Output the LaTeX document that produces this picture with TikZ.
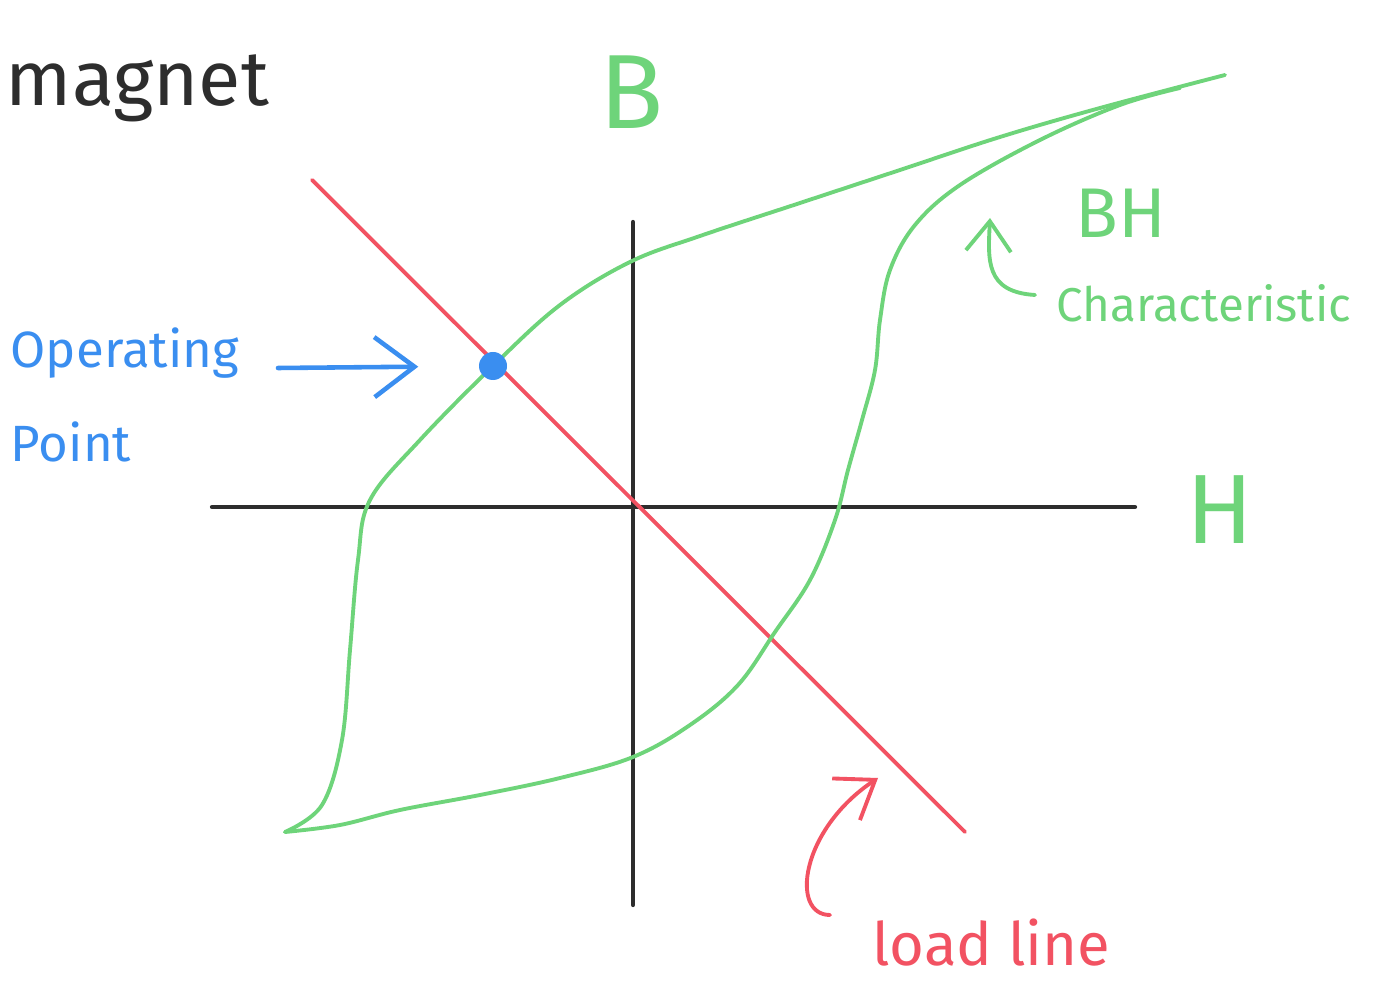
\documentclass[tikz,border=0pt]{standalone}
\usepackage{fontspec}
\setmainfont{Fira Sans}
\usetikzlibrary{arrows.meta, positioning}
\usepackage{xcolor}
\definecolor{bhgreen}{RGB}{110,212,122}
\definecolor{loadred}{RGB}{242,82,98}
\definecolor{opblue}{RGB}{58,142,240}
\definecolor{inkgray}{RGB}{45,45,45}

\begin{document}
\begin{tikzpicture}[x=0.01cm, y=-0.01cm,
    line cap=round, line join=round,
    axisline/.style={draw=inkgray, line width=1.2pt},
    greenline/.style={draw=bhgreen, line width=1.1pt},
    redline/.style={draw=loadred, line width=1.1pt},
    greenarrow/.style={greenline, -{Straight Barb[length=3mm, width=4.5mm]}},
    redarrow/.style={redline, -{Straight Barb[length=3.5mm, width=5mm]}},
    bluearrow/.style={draw=opblue, line width=1.3pt, -{Straight Barb[length=4mm, width=6mm]}},
    opdot/.style={circle, fill=opblue, minimum size=0.28cm, inner sep=0pt},
    hand/.style={anchor=base west, inner sep=0pt}]
  \useasboundingbox (0,0) rectangle (1373,983);

  % axes
  \coordinate (hleft) at (212,507);
  \coordinate (hright) at (1135,507);
  \coordinate (vtop) at (633,222);
  \coordinate (vbot) at (633,905);
  \draw[axisline] (hleft) -- (hright);
  \draw[axisline] (vtop) -- (vbot);

  % load line
  \coordinate (lltop) at (312,180);
  \coordinate (llbot) at (965,832);
  \draw[redline] (lltop) -- (llbot);

  % BH loop, upper and lower branch
  \draw[greenline] plot[smooth, tension=0.6] coordinates {
    (1225,75) (1100,108) (1000,137) (900,170) (800,203) (700,236)
    (630,262) (560,305) (493,366) (420,440) (370,500) (358,560)
    (350,650) (342,740) (322,805) (285,832)};
  \draw[greenline] plot[smooth, tension=0.6] coordinates {
    (285,832) (340,825) (400,810) (480,795) (560,778) (633,757)
    (690,725) (738,685) (775,632) (810,580) (835,520) (848,470)
    (862,420) (875,370) (880,320) (890,270) (915,225) (960,185)
    (1040,140) (1120,105) (1180,88)};

  % operating point
  \node[opdot] (oppoint) at (493,366) {};

  % labels
  \node[hand, text=inkgray, font=\fontsize{22}{26}\selectfont] (magnet) at (5,106) {magnet};
  \node[text=bhgreen, font=\fontsize{30}{34}\selectfont] (blabel) at (632,92) {B};
  \node[text=bhgreen, font=\fontsize{28}{32}\selectfont] (hlabel) at (1220,510) {H};
  \node[hand, text=bhgreen, font=\fontsize{20}{24}\selectfont] (bhlabel) at (1075,238) {BH};
  \node[hand, text=bhgreen, font=\fontsize{13.5}{16}\selectfont] (charlabel) at (1056,322) {Characteristic};
  \node[hand, text=opblue, font=\fontsize{14.5}{17}\selectfont] (oplabel) at (10,368) {Operating};
  \node[hand, text=opblue, font=\fontsize{14.5}{17}\selectfont] (ptlabel) at (10,462) {Point};
  \node[hand, text=loadred, font=\fontsize{17}{20}\selectfont] (lllabel) at (872,965) {load line};

  % pointers
  \coordinate (optail) at (278,368);
  \draw[bluearrow, shorten >=0.6cm] (optail) -- (oppoint);
  \coordinate (bhtail) at (1035,295);
  \coordinate (bhtip) at (990,218);
  \draw[greenarrow] (bhtail) .. controls (985,292) and (988,260) .. (bhtip);
  \coordinate (lltail) at (830,915);
  \coordinate (lltip) at (878,778);
  \draw[redarrow] (lltail) .. controls (790,915) and (800,830) .. (lltip);
\end{tikzpicture}
\end{document}
